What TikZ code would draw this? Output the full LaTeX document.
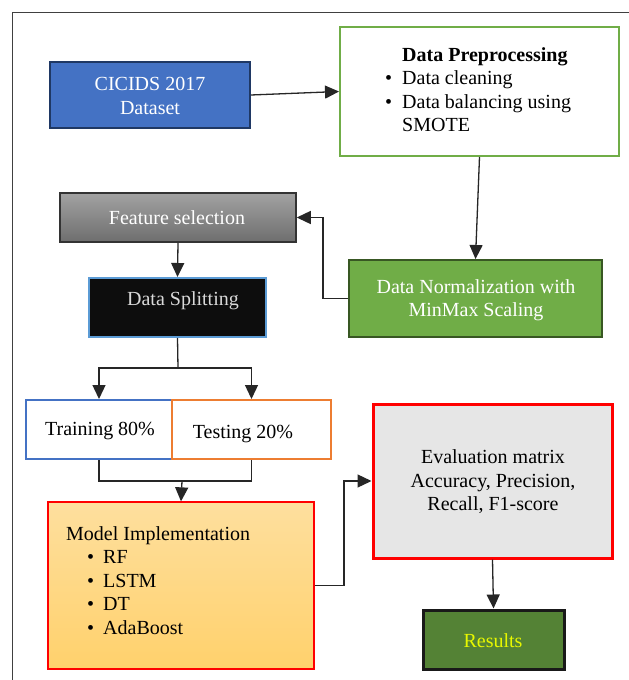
\documentclass[tikz,border=0pt]{standalone}
\usepackage{fontspec}
\setmainfont{Liberation Serif}
\usetikzlibrary{arrows.meta}
\definecolor{cblue}{HTML}{4472C4}
\definecolor{cnavy}{HTML}{1F3864}
\definecolor{cgreen}{HTML}{70AD47}
\definecolor{cdgreen}{HTML}{385723}
\definecolor{clblue}{HTML}{5B9BD5}
\definecolor{corange}{HTML}{ED7D31}
\definecolor{cres}{HTML}{548235}
\definecolor{cyel}{HTML}{E8F800}
\definecolor{cgrayT}{HTML}{A2A2A2}
\definecolor{cgrayB}{HTML}{6E6E6E}
\definecolor{corT}{HTML}{FEDF9E}
\definecolor{corB}{HTML}{FFD16C}
\definecolor{cevl}{HTML}{E6E6E6}
\definecolor{cframe}{HTML}{404040}
\tikzset{
  box/.style={draw, rectangle, inner sep=0pt, anchor=center},
  txt/.style={inner sep=0pt, font=\fontsize{20}{23.5}\selectfont},
  conn/.style={line width=1.3pt, draw=black!85},
  arr/.style={conn, -{Triangle[length=14pt,width=13pt]}},
}
\begin{document}
\begin{tikzpicture}[x=1pt,y=-1pt]
\useasboundingbox (0,0) rectangle (629,680);
\fill[white] (0,0) rectangle (629,680);
% frame
\draw[cframe, line width=1pt] (12,690) -- (12,12) -- (640,12);

% boxes
\node[box, fill=cblue, draw=cnavy, line width=1.8pt, minimum width=200pt, minimum height=66pt] (cic) at (150,95) {};
\node[txt, text=white, align=center] (cictxt) at (150,96) {CICIDS 2017\\Dataset};

\node[box, fill=white, draw=cgreen, line width=2pt, minimum width=279pt, minimum height=129pt] (pre) at (479.5,91.5) {};
\node[txt, anchor=north west, align=left] (pretxt) at (385,47) {\hspace*{17pt}{\bfseries Data Preprocessing}\\
\makebox[17pt][l]{\textbullet}Data cleaning\\
\makebox[17pt][l]{\textbullet}Data balancing using\\
\hspace*{17pt}SMOTE};

\node[box, top color=cgrayT, bottom color=cgrayB, draw=black!80, line width=1.5pt, minimum width=236pt, minimum height=49pt] (feat) at (178,217.5) {};
\node[txt, text=white] (feattxt) at (177,218) {Feature selection};

\node[box, fill=black!95, draw=clblue, line width=2pt, minimum width=177pt, minimum height=59pt] (split) at (177.5,307.5) {};
\node[txt, text=white!85!black] (splittxt) at (183,301) {Data Splitting};

\node[box, fill=cgreen, draw=cdgreen, line width=2pt, minimum width=253pt, minimum height=77pt] (norm) at (475.5,298.5) {};
\node[txt, text=white, align=center] (normtxt) at (476,300) {Data Normalization with\\MinMax Scaling};

\node[box, fill=white, draw=cblue, line width=2pt, minimum width=146pt, minimum height=59pt] (train) at (99,429.5) {};
\node[box, fill=white, draw=corange, line width=2pt, minimum width=159pt, minimum height=59pt] (test) at (251.5,429.5) {};
\node[txt] (traintxt) at (100,431) {Training 80\%};
\node[txt] (testtxt) at (243,434) {Testing 20\%};

\node[box, top color=corT, bottom color=corB, draw=red, line width=1.3pt, minimum width=266pt, minimum height=167pt] (model) at (181,585.5) {};
\node[txt, anchor=north west, align=left] (modeltxt) at (66,526) {Model Implementation\\
\hspace*{21pt}\makebox[16pt][l]{\textbullet}RF\\
\hspace*{21pt}\makebox[16pt][l]{\textbullet}LSTM\\
\hspace*{21pt}\makebox[16pt][l]{\textbullet}DT\\
\hspace*{21pt}\makebox[16pt][l]{\textbullet}AdaBoost};

\node[box, fill=cevl, draw=red, line width=3pt, minimum width=239pt, minimum height=154pt] (eval) at (492.5,481) {};
\node[txt, align=center] (evaltxt) at (493,482) {Evaluation matrix\\Accuracy, Precision,\\Recall, F1-score};

\node[box, fill=cres, draw=black!90, line width=3pt, minimum width=141pt, minimum height=59pt] (res) at (493.5,639.5) {};
\node[txt, text=cyel] (restxt) at (493,641) {Results};

% connectors
\coordinate (splitc) at (178,368);
\coordinate (merge) at (182,481);
\coordinate (normbend) at (323,298.5);
\coordinate (evbend) at (344,585.5);

\draw[arr] (cic.east) -- (pre.west);
\draw[arr] (pre.south) -- (norm.north);
\draw[arr] (norm.west) -- (normbend) |- (feat.east);
\draw[arr] (feat.south) -- (split.north);
\draw[conn] (split.south) -- (splitc);
\draw[arr] (splitc) -| (train.north);
\draw[arr] (splitc) -| (test.north);
\draw[conn] (train.south) |- (merge) -| (test.south);
\draw[arr] (merge) -- (model.north);
\draw[arr] (model.east) -- (evbend) |- (eval.west);
\draw[arr] (eval.south) -- (res.north);
\end{tikzpicture}
\end{document}
